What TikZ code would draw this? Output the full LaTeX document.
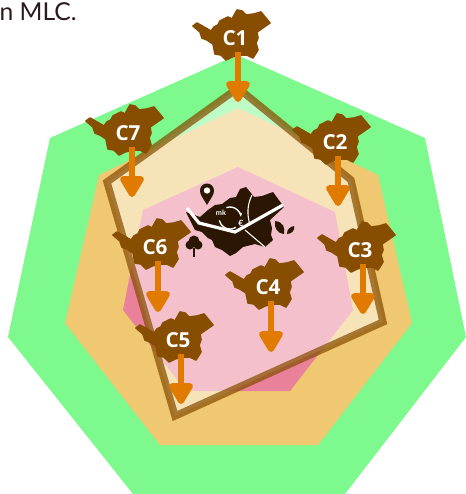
\documentclass[tikz,border=0pt]{standalone}
\usepackage{fontspec}
\usepackage{xcolor}
\setmainfont{Lato}
\newfontfamily\wardfont{Open Sans}
\usetikzlibrary{arrows.meta,positioning,calc}
\definecolor{ringgreen}{HTML}{7DF98E}
\definecolor{ringtan}{HTML}{F0C871}
\definecolor{ringpink}{HTML}{E9819A}
\definecolor{wardbrown}{HTML}{874D00}
\definecolor{flowamber}{HTML}{E07B00}
\definecolor{citydark}{HTML}{2A1603}
\definecolor{captionink}{HTML}{2B1A1E}
\tikzset{
  wardlabel/.style={font=\wardfont\bfseries\fontsize{15.5pt}{15.5pt}\selectfont,text=white,inner sep=0pt,minimum height=21pt},
  flow/.style={-{Triangle[length=18pt,width=20pt,round]},line width=4.5pt,draw=flowamber},
}
\newcommand{\ward}[4]{%
  \filldraw[wardbrown,line width=1.2pt,line join=round,shift={(#2,#3)}]
    (-42,-12)--(-38,-15)--(-24,-7)--(-21,-11)--(-17,-13)--(-15,-17)--(-7,-21)--(-3,-19)--(2,-28)--(7,-27)--(11,-23)--(19,-24)--(26,-26)--(35,-15)
    --(22,-6)--(23,0)--(21,5)--(23,12)--(18,20)--(12,17)--(4,17)--(-3,19)--(-9,22)--(-14,17)--(-20,16)--(-22,6)--(-28,2)--(-33,0)--(-35,-6)--cycle;
  \node[wardlabel] (#1) at (#2,#3) {#4};
}
\begin{document}
\begin{tikzpicture}[x=0.75pt,y=-0.75pt]
\useasboundingbox (0,0) rectangle (466,494);
\node[anchor=base east,text=captionink,font=\fontsize{18.5pt}{18.5pt}\selectfont,inner sep=0pt] (caption) at (77,20) {n MLC.};
% rings
\fill[ringgreen] (237,55)--(425,138)--(466,337)--(345,494)--(133,494)--(8,337)--(50,138)--cycle;
\fill[ringtan] (238,108)--(378,175)--(412,323)--(318,445)--(160,445)--(65,323)--(99,175)--cycle;
\fill[ringpink] (238,167)--(335,212)--(353,310)--(290,391)--(186,391)--(123,310)--(143,210)--cycle;
% study area
\draw[draw=wardbrown,draw opacity=.72,fill=white,fill opacity=.5,line width=5.5pt,miter limit=10]
  (238,88)--(351,180)--(383,322)--(175,416)--(107,182)--cycle;
% city
\fill[citydark] (186,212)--(200,217)--(208,210)--(215,205)--(222,204)--(230,198)--(236,197)--(238,193)--(240,189)--(246,187)--(251,193)--(254,197)
  --(262,196)--(273,192)--(284,207)--(270,220)--(272,228)--(271,235)--(273,240)--(265,247)--(255,244)--(243,247)--(236,253)--(230,256)--(222,250)--(215,247)--(212,240)--(208,238)--(202,232)--(195,230)--cycle;
\draw[white,line width=2.4pt] (187,208)--(199,223)--(235,232)--(283,205);
\draw[white,line width=.8pt] (252,195)..controls (247,205) and (247,215)..(250,225);
\draw[white,line width=.8pt] (245,230)--(265,247);
\draw[white,line width=1pt,-{Stealth[length=3pt]}] (230,218)++(-109:11) arc (-109:-6:11);
\draw[white,line width=1pt] (230,218)++(58:11) arc (58:167:11);
\node[text=white,font=\bfseries\fontsize{5.5pt}{5.5pt}\selectfont,inner sep=0pt] (mk) at (221,213) {mk};
\node[text=white,font=\bfseries\fontsize{6.5pt}{6.5pt}\selectfont,inner sep=0pt] (euro) at (241,223) {€};
% pin, tree, leaf
\fill[citydark] (207,205)..controls (203,198) and (200,195)..(200,190.5) arc (180:360:7)..controls (214,195) and (211,198)..(207,205)--cycle;
\fill[white] (207,190.5) circle (3.2);
\fill[citydark] (190,245) circle (4.5);
\fill[citydark] (198,245) circle (4.5);
\fill[citydark] (194,241) circle (5.5);
\fill[citydark] (192.5,248) rectangle (194.5,257);
\fill[citydark] (275,221)..controls (284,222) and (285,228)..(284,234)..controls (277,233) and (274,228)..(275,221)--cycle;
\fill[citydark] (287,234)..controls (287,229) and (290,227)..(294,226)..controls (295,230) and (292,234)..(287,234)--cycle;
% wards
\ward{c1}{235}{38}{C1}
\coordinate (c1tip) at (238,102);
\draw[flow] (c1.south -| c1tip)--(c1tip);
\ward{c7}{128}{133}{C7}
\coordinate (c7tip) at (132,197);
\draw[flow] (c7.south -| c7tip)--(c7tip);
\ward{c2}{335}{142}{C2}
\coordinate (c2tip) at (338,206);
\draw[flow] (c2.south -| c2tip)--(c2tip);
\ward{c3}{360}{250}{C3}
\coordinate (c3tip) at (363,314);
\draw[flow] (c3.south -| c3tip)--(c3tip);
\ward{c6}{155}{247}{C6}
\coordinate (c6tip) at (158,312);
\draw[flow] (c6.south -| c6tip)--(c6tip);
\ward{c4}{268}{287}{C4}
\coordinate (c4tip) at (271,352);
\draw[flow] (c4.south -| c4tip)--(c4tip);
\ward{c5}{178}{340}{C5}
\coordinate (c5tip) at (181,404);
\draw[flow] (c5.south -| c5tip)--(c5tip);
\end{tikzpicture}
\end{document}
